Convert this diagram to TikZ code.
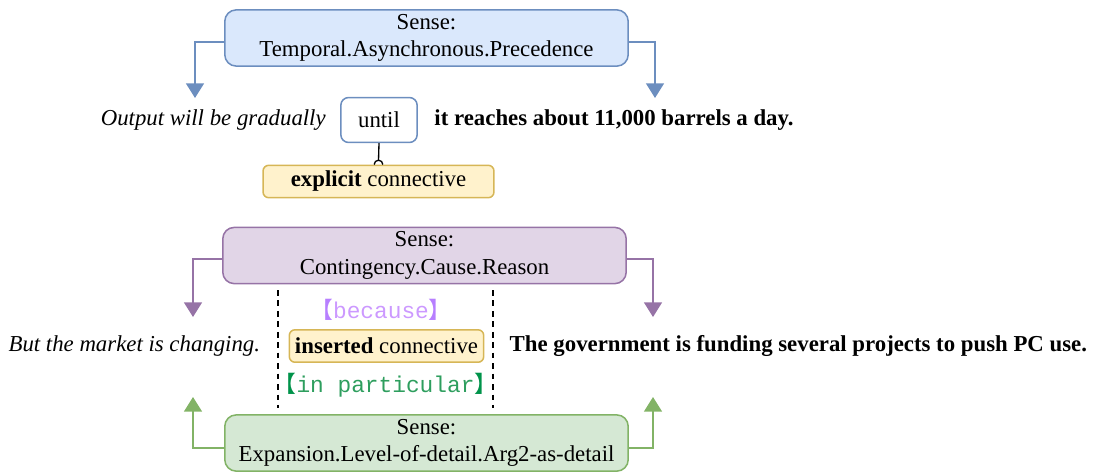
\documentclass[tikz,border=0pt]{standalone}
\usepackage{fontspec}
\setmainfont{Liberation Serif}
\setmonofont{Liberation Mono}
\newfontfamily\cjk{Noto Sans CJK SC}
\usepackage{xcolor}
\usepackage{tikz}
\usetikzlibrary{arrows.meta,positioning}

\definecolor{blueln}{HTML}{6C8EBF}
\definecolor{bluebg}{HTML}{DAE8FC}
\definecolor{purpln}{HTML}{9673A6}
\definecolor{purpbg}{HTML}{E1D5E7}
\definecolor{greenln}{HTML}{82B366}
\definecolor{greenbg}{HTML}{D5E8D4}
\definecolor{yellln}{HTML}{D6B656}
\definecolor{yellbg}{HTML}{FFF2CC}
\definecolor{lavtxt}{HTML}{CC99FF}
\definecolor{lavbr}{HTML}{B77FFF}
\definecolor{grtxt}{HTML}{2E9E5E}
\definecolor{grbr}{HTML}{00934A}

\begin{document}
\begin{tikzpicture}[
      x=0.0185cm, y=-0.0185cm,
      font=\fontsize{12}{14.5}\selectfont,
      sense/.style={draw, line width=0.8pt, rounded corners=6pt, align=center, minimum width=7.46cm, minimum height=1.04cm, inner sep=0pt},
      conn/.style={draw=yellln, fill=yellbg, line width=0.8pt, rounded corners=3pt, minimum height=0.6cm, inner sep=3pt},
      txt/.style={inner sep=0pt},
      arr/.style={-{Triangle[width=0.33cm, length=0.27cm]}, line width=0.9pt}
    ]
      \useasboundingbox (0,0) rectangle (1094,472);

      % first example: explicit connective
      \node[sense, draw=blueln, fill=bluebg] (temporal) at (426.5,38) {Sense:\\Temporal.Asynchronous.Precedence};
      \node[draw=blueln, line width=0.8pt, rounded corners=4pt, minimum width=1.41cm, minimum height=0.83cm] (until) at (379,120) {until};
      \node[txt, left=0.26cm of until] (arg1a) {\itshape Output will be gradually};
      \node[txt, right=0.3cm of until] (arg2a) {\bfseries it reaches about 11,000 barrels a day.};
      \node[conn, minimum width=4.27cm] (explicit) at (378.5,181.5) {\textbf{explicit} connective};

      \coordinate (tl) at (195,98);
      \coordinate (tr) at (655,98);
      \draw[arr, blueln] ([yshift=-0.08cm]temporal.west) -| (tl);
      \draw[arr, blueln] ([yshift=-0.08cm]temporal.east) -| (tr);

      \draw[line width=0.7pt] (until.south) -- ([yshift=0.08cm]explicit.north);
      \draw[line width=0.7pt] ([xshift=-0.08cm]explicit.north) arc (180:0:0.08cm);

      % second example: implicit connective
      \node[sense, draw=purpln, fill=purpbg] (reason) at (424.5,255.5) {Sense:\\Contingency.Cause.Reason};
      \node[conn, minimum width=3.57cm] (inserted) at (386.5,346) {\textbf{inserted} connective};
      \node[txt, left=0.52cm of inserted] (arg1b) {\itshape But the market is changing.};
      \node[txt, right=0.46cm of inserted] (arg2b) {\bfseries The government is funding several projects to push PC use.};
      \node[txt] (because) at (381,310) {{\cjk\color{lavbr}【}\texttt{\color{lavtxt}because}{\cjk\color{lavbr}】}};
      \node[txt] (particular) at (385.5,385) {{\cjk\color{grbr}【}\texttt{\color{grtxt}in particular}{\cjk\color{grbr}】}};
      \node[sense, draw=greenln, fill=greenbg] (detail) at (426.5,443) {Sense:\\Expansion.Level-of-detail.Arg2-as-detail};

      \coordinate (dl1) at (278,290);
      \coordinate (dl2) at (278,408);
      \coordinate (dr1) at (493,290);
      \coordinate (dr2) at (493,408);
      \draw[dash pattern=on 3pt off 2.5pt, line width=0.7pt] (dl1) -- (dl2);
      \draw[dash pattern=on 3pt off 2.5pt, line width=0.7pt] (dr1) -- (dr2);

      \coordinate (rl) at (193,317);
      \coordinate (rr) at (653,317);
      \draw[arr, purpln] ([yshift=-0.07cm]reason.west) -| (rl);
      \draw[arr, purpln] ([yshift=-0.07cm]reason.east) -| (rr);

      \coordinate (gl) at (193,397);
      \coordinate (gr) at (653,397);
      \draw[arr, greenln] ([yshift=-0.09cm]detail.west) -| (gl);
      \draw[arr, greenln] ([yshift=-0.09cm]detail.east) -| (gr);
    \end{tikzpicture}
\end{document}
